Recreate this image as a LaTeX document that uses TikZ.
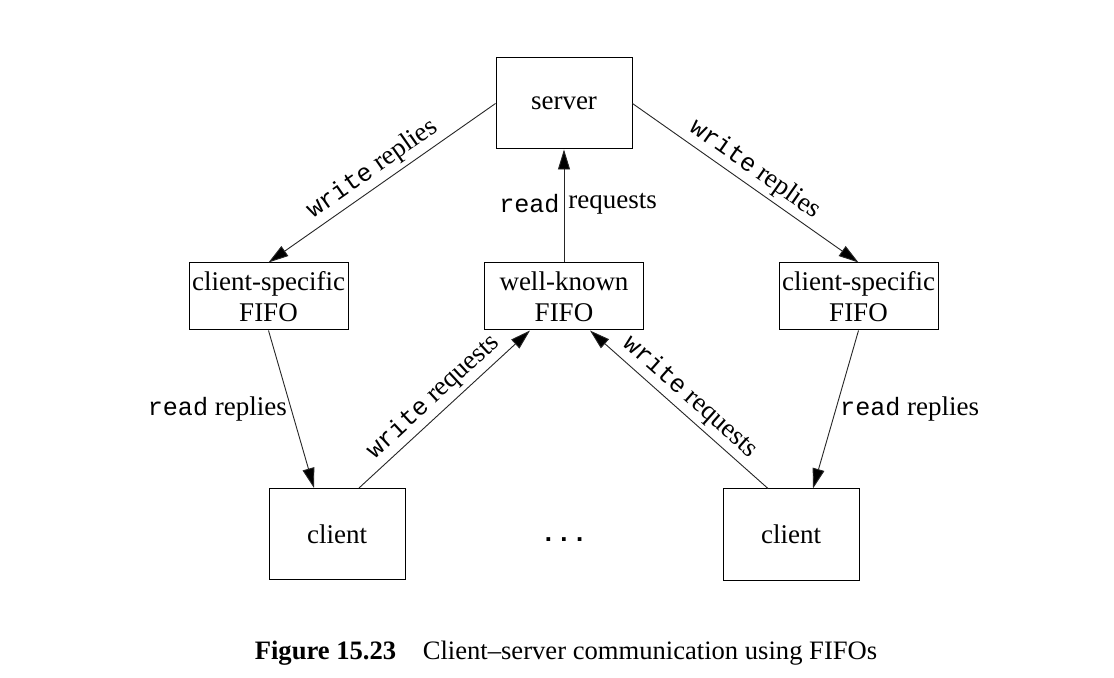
\documentclass[tikz,border=0pt]{standalone}
\usepackage{fontspec}
\setmainfont{Liberation Serif}
\setmonofont{Liberation Mono}[Scale=0.93]
\usetikzlibrary{arrows.meta,calc}
\begin{document}
\begin{tikzpicture}[x=0.5pt,y=-0.5pt,
  font=\fontsize{13.5}{15.5}\selectfont,
  box/.style={draw, line width=0.5pt, inner sep=0pt, align=center},
  srvbox/.style={box, minimum width=68pt, minimum height=45.5pt},
  fifobox/.style={box, minimum width=79.5pt, minimum height=33.5pt},
  conn/.style={draw, line width=0.45pt, black!85, -{Triangle[length=10pt,width=6pt,fill=black]}},
  lbl/.style={inner sep=2pt, text=black}]
\useasboundingbox[fill=white] (0,0) rectangle (1114,678);

\node[srvbox] (server) at (564,103.5) {server};
\node[fifobox] (lfifo) at (268.5,296.5) {client-specific\\FIFO};
\node[fifobox] (wk) at (564,296.5) {well-known\\FIFO};
\node[fifobox] (rfifo) at (858.5,296.5) {client-specific\\FIFO};
\node[srvbox] (lclient) at (337,534) {client};
\node[srvbox] (rclient) at (791,534.5) {client};
\node[anchor=base, inner sep=0pt] (dots) at (564,541) {\fontsize{14}{14}\selectfont\texttt{\bfseries ...}};

\draw[conn] (server.west) -- node[lbl, midway, sloped, above] {\texttt{write} replies} (lfifo.north);
\draw[conn] (server.east) -- node[lbl, midway, sloped, above] {\texttt{write} replies} (rfifo.north);
\draw[conn] (wk.north) -- node[lbl, pos=0.52, left] {\texttt{read}} node[lbl, pos=0.52, right] {requests} (server.south);
\draw[conn] (lfifo.south) -- node[lbl, midway, left] {\texttt{read} replies} ([xshift=-11.5pt]lclient.north);
\draw[conn] (rfifo.south) -- node[lbl, midway, right] {\texttt{read} replies} ([xshift=11pt]rclient.north);
\draw[conn] ([xshift=11pt]lclient.north) -- node[lbl, midway, sloped, above] {\texttt{write} requests} ([xshift=-17pt]wk.south);
\draw[conn] ([xshift=-11.5pt]rclient.north) -- node[lbl, midway, sloped, above] {\texttt{write} requests} ([xshift=13pt]wk.south);

\node[anchor=base, font=\fontsize{13.3}{15}\selectfont] (caption) at (566,659)
  {\textbf{Figure 15.23}\quad Client--server communication using FIFOs};
\end{tikzpicture}
\end{document}
